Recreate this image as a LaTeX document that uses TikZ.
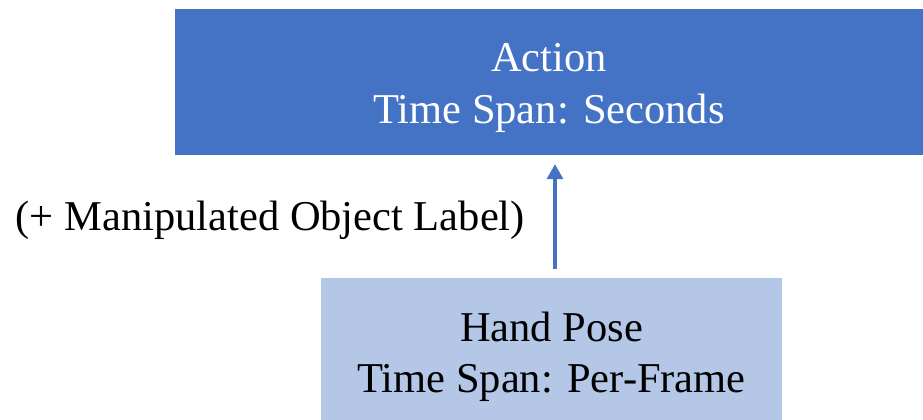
\documentclass[tikz,border=0pt]{standalone}
\usepackage{fontspec}
\setmainfont{Liberation Serif}
\usetikzlibrary{arrows.meta, positioning, calc}
\definecolor{darkblock}{RGB}{68,114,196}
\definecolor{lightblock}{RGB}{180,199,231}
\newcommand{\toppad}{\rule{0pt}{40pt}}

\begin{document}
\begin{tikzpicture}[
    x=1pt, y=1pt,
    block/.style={
        rectangle,
        align=center,
        inner sep=0pt,
        font=\fontsize{42.5}{51.5}\selectfont
    },
    topblock/.style={block, fill=darkblock, text=white,
        minimum width=748pt, minimum height=146pt},
    poseblock/.style={block, fill=lightblock, text=black,
        minimum width=461pt, minimum height=157pt},
    arrow/.style={line width=3.5pt, darkblock,
        -{Triangle[length=15pt, width=16pt]},
        shorten <=9pt, shorten >=9pt},
    label/.style={font=\fontsize{42.5}{51.5}\selectfont, inner sep=0pt}
]
\useasboundingbox (0,0) rectangle (923,-420);

% boxes
\node[topblock] (action) at (549,-82) {\toppad Action\\Time Span: Seconds};
\node[poseblock, below=123pt of action.south, anchor=north, xshift=2.5pt] (pose)
    {Hand Pose\\Time Span: Per-Frame};

% connector
\coordinate (axis) at (555,0);
\coordinate (pTop) at (pose.north -| axis);
\coordinate (aBot) at (action.south -| axis);
\draw[arrow] (pTop) -- (aBot);

% label
\node[label, left=30pt of $(pTop)!0.5!(aBot)$, yshift=-4pt] (objlabel)
    {(+ Manipulated Object Label)};

\end{tikzpicture}
\end{document}
